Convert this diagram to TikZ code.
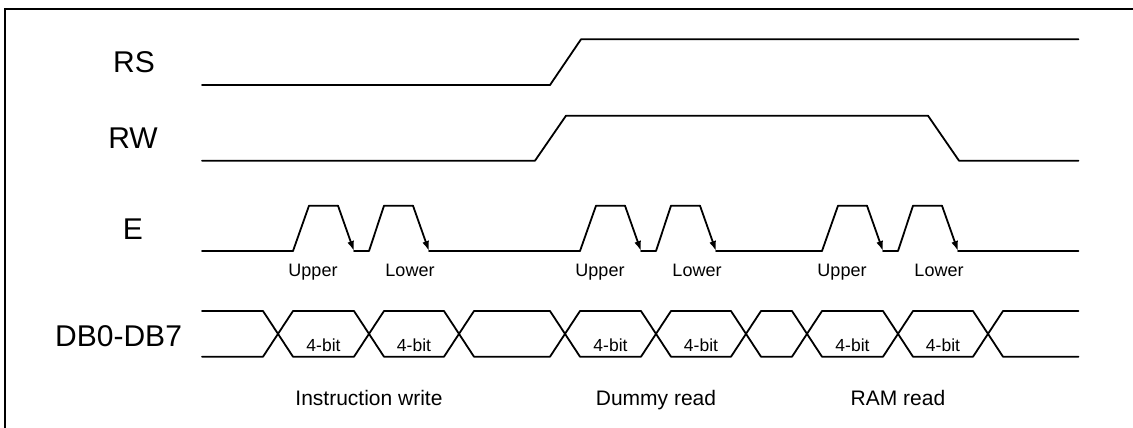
\documentclass[tikz,border=0pt]{standalone}
\usepackage{fontspec}
\setmainfont{Liberation Sans}
\usetikzlibrary{arrows.meta}

\begin{document}
\begin{tikzpicture}[x=1pt, y=-1pt,
    wave/.style={line width=1.8pt, line join=round, line cap=round},
    falling/.style={wave, -{Latex[length=10pt,width=7pt]}},
    signame/.style={anchor=base, font=\fontsize{30}{36}\selectfont},
    strobe/.style={anchor=base, font=\fontsize{18}{22}\selectfont},
    nibble/.style={anchor=base, font=\fontsize{17.5}{21}\selectfont},
    phase/.style={anchor=base, font=\fontsize{21}{25}\selectfont}]
  \useasboundingbox (0,0) rectangle (1133,428);
  \draw[line width=2pt] (4.5,428) -- (4.5,9) -- (1133,9);

  \node[signame] (rs) at (134,72.7) {RS};
  \node[signame] (rw) at (133,148.3) {RW};
  \node[signame] (e) at (133,239) {E};
  \node[signame] (db) at (118.6,346.5) {DB0-DB7};

  \draw[wave] (202,85) -- (550,85) -- (581,39.3) -- (1078.5,39.3);
  \draw[wave] (202,160.7) -- (535,160.7) -- (566,115.7) -- (928,115.7) -- (959,160.7) -- (1078.5,160.7);

  \foreach \s [count=\i] in {293,580,822}{
    \draw[wave] (\s,251) -- ++(16,-45.3) -- ++(29,0);
    \draw[falling] (\s+45,205.7) -- (\s+61,251);
    \draw[wave] (\s+61,251) -- (\s+76,251) -- ++(15,-45.3) -- ++(29,0);
    \draw[falling] (\s+120,205.7) -- (\s+136,251);
    \node[strobe] (up\i) at (\s+20,276) {Upper};
    \node[strobe] (lo\i) at (\s+117,276) {Lower};
  }
  \draw[wave] (202,251) -- (293,251) (429,251) -- (580,251) (716,251) -- (822,251) (958,251) -- (1078.5,251);

  \draw[wave] (202,311) -- (263,311) -- (278,333.85) -- (263,356.7) -- (202,356.7);
  \foreach \a/\b in {278/369,369/459,459/565,565/656,656/746,746/807,807/898,898/988}
    \draw[wave] (\a,333.85) -- (\a+15,311) -- (\b-15,311) -- (\b,333.85) -- (\b-15,356.7) -- (\a+15,356.7) -- cycle;
  \draw[wave] (1078.5,311) -- (1003,311) -- (988,333.85) -- (1003,356.7) -- (1078.5,356.7);

  \foreach \m [count=\i] in {323.5,414,610.5,701,852.5,943}
    \node[nibble] (nib\i) at (\m,351.7) {4-bit};

  \node[phase] (iw) at (369,405) {Instruction write};
  \node[phase] (dr) at (656,405) {Dummy read};
  \node[phase] (rr) at (898,405) {RAM read};
\end{tikzpicture}
\end{document}
